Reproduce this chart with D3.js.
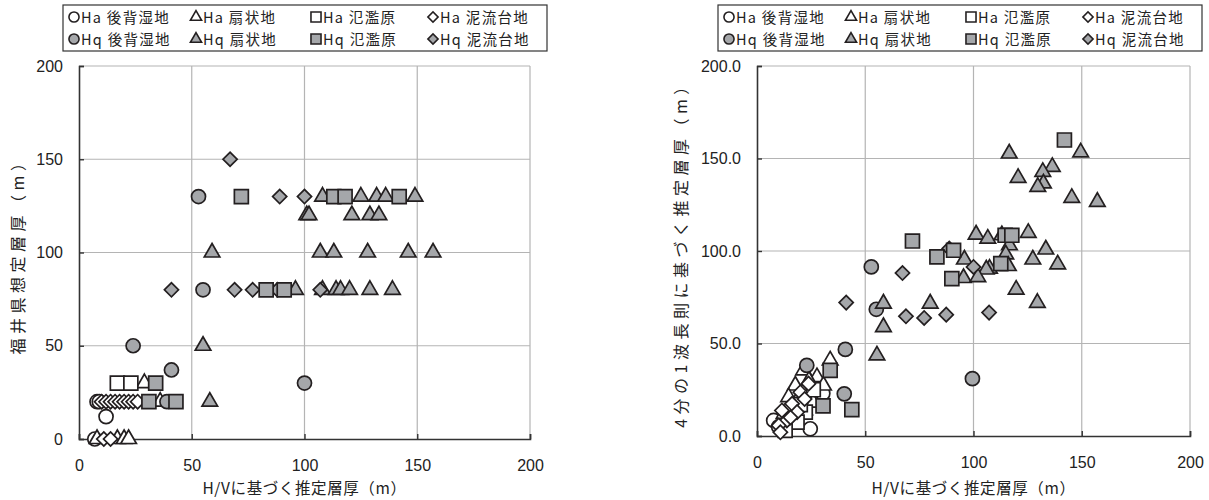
<!DOCTYPE html>
<html lang="ja">
<head>
<meta charset="UTF-8">
<title>層厚の比較</title>
<script src="https://d3js.org/d3.v7.min.js"></script>
<style>
  body { margin: 0; background: #fff; }
  text { font-family: "Liberation Sans", "Noto Sans CJK JP", sans-serif; fill: #222; }
  .jp { font-family: "Noto Sans CJK JP", sans-serif; }
</style>
</head>
<body>
<svg id="chart" width="1209" height="500"></svg>
<script>
// ---- data: [H/V thickness, other thickness] ----
// left panel: 福井県想定層厚
var leftHaBack   = [[7,0],[8,20],[9,20],[12,12]];
var leftHaFan    = [[8,0],[17,0],[20,0],[22,0],[36,20],[29,30]];
var leftHaFlood  = [[17,30],[23,30]];
var leftHaMud    = [[11,0],[14,0],[10,20],[12,20],[14,20],[16,20],[18,20],[20,20],[22,20],[24,20],[26,20]];
var leftHqBack   = [[24,50],[41,37],[39,20],[53,130],[55,80],[100,30]];
var leftHqFan    = [[108,130],[125,130],[132,130],[136,130],[149,130],
                    [101,120],[102,120],[121,120],[129,120],[133,120],
                    [59,100],[107,100],[113,100],[128,100],[146,100],[157,100],
                    [96,80],[108,80],[114,80],[116,80],[120,80],[129,80],[139,80],
                    [55,50],[58,20]];
var leftHqMud    = [[67,150],[89,130],[100,130],[41,80],[69,80],[77,80],[88,80],[107,80]];
var leftHqFlood  = [[72,130],[113,130],[118,130],[142,130],[83,80],[91,80],[31,20],[43,20],[34,30]];

// right panel: 4分の1波長則に基づく推定層厚
var rightHaBack  = [[7.7,8.4],[10,5],[24.6,3.9],[30.4,23]];
var rightHaFan   = [[21.5,35.5],[33.8,40.9],[27.7,31.8],[30.7,27.3],[17.7,27.3],[14.6,21],[24,30],[20,22],[12.5,12],[26,18],[22,14]];
var rightHaFlood = [[22.3,12.9],[18.5,7.5],[13,3],[26,25],[20,17]];
var rightHaMud   = [[23.8,28.3],[20,23.7],[16.2,17.4],[11.5,13.8],[18.5,12.9],[13.8,8.4],[10,5.7],[10.8,2],[15.5,10],[22,20]];
var rightHqBack  = [[52.8,91.4],[55.1,68.5],[40.8,46.8],[99.5,31],[40.3,22.8],[23,38.2]];
var rightHqFan   = [[116.5,152.7],[149.5,153.3],[136.4,145.5],[132,142.8],[120.6,139.5],[132.3,136.5],[129.7,134.7],
                    [145.4,128.7],[157.2,126.6],[101.2,108.9],[106.6,106.7],[113.1,108.5],[125.3,109.8],[116.6,103.1],
                    [133.4,100.8],[127.4,95.4],[138.9,92.8],[114.9,98.2],[116.1,91.9],[107.4,90.5],[105.9,90],
                    [95.8,95.4],[95.4,85.4],[102,85.9],[119.7,79.1],[129.5,72],[58.4,71.6],[58.4,58.9],[80,71.6],[55.4,43.6]];
var rightHqMud   = [[88.8,101.3],[100,91.4],[67.2,88.1],[41.2,72.1],[68.8,64.7],[77.2,63.8],[87.4,65.6],[107.2,66.7]];
var rightHqFlood = [[142,160],[114.6,108.5],[117.7,108.5],[112.6,93.2],[71.8,105.4],[83.1,96.8],[90.8,100.4],[90,85.1],
                    [33.8,35.5],[30.5,16.3],[43.8,14.3]];

var xTicks = [0, 50, 100, 150, 200];
var yTicks = [0, 50, 100, 150, 200];

var legendNames = ["Ha 後背湿地", "Ha 扇状地", "Ha 氾濫原", "Ha 泥流台地",
                   "Hq 後背湿地", "Hq 扇状地", "Hq 氾濫原", "Hq 泥流台地"];
var legendShapes = ["circle", "triangle", "square", "diamond"];

var GRAY = "#a5a7aa", STROKE = "#231f20";

var svg = d3.select("#chart");

function shapePath(kind) {
  if (kind === "circle") return d3.symbol(d3.symbolCircle, 155)();
  if (kind === "square") return d3.symbol(d3.symbolSquare, 195)();
  if (kind === "triangle") return d3.symbol(d3.symbolTriangle, 105)();
  return d3.symbol(d3.symbolSquare, 100)(); // rotated for diamond
}

function addMark(g, kind, fill, x, y) {
  g.append("path")
    .attr("d", shapePath(kind))
    .attr("transform", "translate(" + x + "," + y + ")" + (kind === "diamond" ? " rotate(45)" : ""))
    .attr("fill", fill)
    .attr("stroke", STROKE)
    .attr("stroke-width", 1.7);
}

function drawPanel(cfg) {
  var x = d3.scaleLinear().domain([0, 200]).range([cfg.left, cfg.right]);
  var y = d3.scaleLinear().domain([0, 200]).range([cfg.bottom, cfg.top]);
  var g = svg.append("g");

  // grid
  g.selectAll(".vg").data(xTicks.slice(1)).enter().append("line")
    .attr("x1", d => x(d)).attr("x2", d => x(d))
    .attr("y1", cfg.top).attr("y2", cfg.bottom)
    .attr("stroke", "#b4b4b4").attr("stroke-width", 1.2);
  g.selectAll(".hg").data(yTicks.slice(1)).enter().append("line")
    .attr("x1", cfg.left).attr("x2", cfg.right)
    .attr("y1", d => y(d)).attr("y2", d => y(d))
    .attr("stroke", "#b4b4b4").attr("stroke-width", 1.2);

  // axes
  var xAxis = d3.axisBottom(x).tickValues(xTicks).tickSize(-5).tickPadding(21);
  var yAxis = d3.axisLeft(y).tickValues(yTicks).tickSize(-5).tickPadding(16)
    .tickFormat(cfg.yFormat);
  var ga = g.append("g").attr("transform", "translate(0," + cfg.bottom + ")").call(xAxis);
  var gy = g.append("g").attr("transform", "translate(" + cfg.left + ",0)").call(yAxis);
  [ga, gy].forEach(function (a) {
    a.select(".domain").attr("stroke", "#333").attr("stroke-width", 1.6);
    a.selectAll(".tick line").attr("stroke", "#333").attr("stroke-width", 1.4);
    a.selectAll("text").attr("font-size", 16).attr("fill", "#222")
      .attr("font-family", "'Liberation Sans', sans-serif");
  });

  // titles
  g.append("text").attr("class", "jp")
    .attr("x", (cfg.left + cfg.right) / 2).attr("y", 494)
    .attr("text-anchor", "middle").attr("font-size", 15.5)
    .attr("letter-spacing", 0.6)
    .text("H/Vに基づく推定層厚（m）");
  g.append("text").attr("class", "jp")
    .attr("transform", "translate(" + cfg.yTitleX + "," + ((cfg.top + cfg.bottom) / 2) + ") rotate(-90)")
    .attr("text-anchor", "middle").attr("font-size", 16)
    .attr("letter-spacing", 4.5)
    .text(cfg.yTitle);

  // points: Ha (white) first, then Hq (gray)
  var series = [
    [cfg.data[0], "circle", "#fff"], [cfg.data[1], "triangle", "#fff"],
    [cfg.data[2], "square", "#fff"], [cfg.data[3], "diamond", "#fff"],
    [cfg.data[4], "circle", GRAY], [cfg.data[5], "triangle", GRAY],
    [cfg.data[6], "diamond", GRAY], [cfg.data[7], "square", GRAY]
  ];
  var pg = g.append("g");
  series.forEach(function (s) {
    s[0].forEach(function (p) { addMark(pg, s[1], s[2], x(p[0]), y(p[1])); });
  });

  // legend
  var lg = g.append("g").attr("transform", "translate(" + cfg.legendX + ",5)");
  lg.append("rect").attr("width", 484).attr("height", 46)
    .attr("fill", "#fff").attr("stroke", "#333").attr("stroke-width", 1.2);
  var colX = [11, 133, 253, 370];
  legendNames.forEach(function (name, i) {
    var col = i % 4, row = Math.floor(i / 4);
    var cx = colX[col], cy = 12 + row * 22;
    var k = legendShapes[col];
    var item = lg.append("g").attr("transform", "translate(" + cx + "," + cy + ") scale(0.72)");
    item.append("path").attr("d", shapePath(k))
      .attr("transform", k === "diamond" ? "rotate(45)" : null)
      .attr("fill", row === 0 ? "#fff" : GRAY)
      .attr("stroke", STROKE).attr("stroke-width", 2.2);
    lg.append("text").attr("class", "jp")
      .attr("x", cx + 7).attr("y", cy + 5.5)
      .attr("font-size", 14.5).attr("letter-spacing", 1.3)
      .text(name);
  });
}

drawPanel({
  left: 79, right: 530, top: 66, bottom: 439,
  yFormat: d3.format("d"), yTitle: "福井県想定層厚（m）", yTitleX: 24,
  legendX: 63,
  data: [leftHaBack, leftHaFan, leftHaFlood, leftHaMud, leftHqBack, leftHqFan, leftHqMud, leftHqFlood]
});

drawPanel({
  left: 757, right: 1190, top: 66, bottom: 436,
  yFormat: d3.format(".1f"), yTitle: "4分の1波長則に基づく推定層厚（m）", yTitleX: 687,
  legendX: 718,
  data: [rightHaBack, rightHaFan, rightHaFlood, rightHaMud, rightHqBack, rightHqFan, rightHqMud, rightHqFlood]
});
</script>
</body>
</html>
